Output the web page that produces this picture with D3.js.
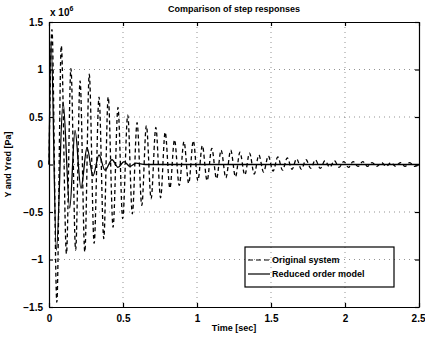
<!DOCTYPE html>
<html>
<head>
<meta charset="utf-8">
<script src="https://cdn.jsdelivr.net/npm/d3@7"></script>
<style>
  body { margin: 0; background: #fff; }
  svg { font-family: "Liberation Sans", Arial, sans-serif; }
</style>
</head>
<body>
<svg id="chart" width="425" height="337"></svg>
<script>
// values in units of 10^6 Pa
const xTicks = [0, 0.5, 1, 1.5, 2, 2.5];
const yTicks = [-1.5, -1, -0.5, 0, 0.5, 1, 1.5];

// original system: peaks and troughs of the oscillation
const peakT = [0.020, 0.083, 0.148, 0.210, 0.272, 0.338, 0.400, 0.466, 0.532, 0.595, 0.658, 0.722, 0.785, 0.848, 0.912, 0.975, 1.036, 1.100, 1.163, 1.228, 1.290, 1.355, 1.418, 1.482, 1.546, 1.610, 1.673, 1.737, 1.800, 1.865, 1.928, 1.992, 2.055, 2.120, 2.183, 2.247, 2.310, 2.374, 2.437];
const peakY = [1.42, 1.25, 1.01, 0.88, 0.95, 0.71, 0.71, 0.60, 0.52, 0.44, 0.41, 0.39, 0.34, 0.26, 0.24, 0.25, 0.20, 0.17, 0.15, 0.15, 0.13, 0.12, 0.10, 0.09, 0.08, 0.07, 0.06, 0.05, 0.05, 0.04, 0.04, 0.03, 0.03, 0.03, 0.02, 0.02, 0.02, 0.02, 0.02];
const troughT = [0.053, 0.118, 0.180, 0.242, 0.305, 0.370, 0.433, 0.498, 0.563, 0.627, 0.690, 0.754, 0.817, 0.880, 0.944, 1.006, 1.068, 1.132, 1.195, 1.260, 1.323, 1.387, 1.450, 1.514, 1.578, 1.642, 1.705, 1.769, 1.833, 1.897, 1.960, 2.024, 2.088, 2.152, 2.215, 2.279, 2.342, 2.406, 2.470];
const troughY = [-1.45, -0.94, -0.90, -0.92, -0.83, -0.78, -0.66, -0.57, -0.52, -0.43, -0.36, -0.35, -0.25, -0.22, -0.20, -0.17, -0.17, -0.15, -0.14, -0.13, -0.11, -0.10, -0.08, -0.07, -0.06, -0.05, -0.05, -0.04, -0.04, -0.03, -0.03, -0.03, -0.02, -0.02, -0.02, -0.02, -0.02, -0.02, -0.02];

// reduced order model
const redT = [0, 0.014, 0.050, 0.095, 0.140, 0.176, 0.216, 0.257, 0.297, 0.338, 0.378, 0.426, 0.466, 0.507, 0.547, 0.588, 0.650, 2.5];
const redY = [0, 1.30, -0.90, 0.66, -0.46, 0.36, -0.25, 0.18, -0.12, 0.10, -0.06, 0.05, -0.03, 0.03, -0.02, 0.015, 0, 0];

const svg = d3.select('#chart');
const plotLeft = 49, plotRight = 419, plotTop = 22, plotBottom = 307;

const x = d3.scaleLinear().domain([0, 2.5]).range([plotLeft, plotRight]);
const y = d3.scaleLinear().domain([-1.5, 1.5]).range([plotBottom, plotTop]);

// build the original series from peaks and troughs
let orig = [{ t: 0, v: 0 }];
peakT.forEach((t, i) => orig.push({ t: t, v: peakY[i] }));
troughT.forEach((t, i) => orig.push({ t: t, v: troughY[i] }));
orig.push({ t: 2.5, v: 0 });
orig.sort((a, b) => a.t - b.t);

const red = redT.map((t, i) => ({ t: t, v: redY[i] }));

// grid (dotted)
const grid = svg.append('g')
  .attr('stroke', '#000')
  .attr('stroke-width', 0.7)
  .attr('stroke-dasharray', '1,4')
  .attr('opacity', 0.6);
grid.selectAll('line.gx')
  .data(xTicks.slice(1, -1))
  .join('line')
  .attr('class', 'gx')
  .attr('x1', d => x(d)).attr('x2', d => x(d))
  .attr('y1', plotTop).attr('y2', plotBottom);
grid.selectAll('line.gy')
  .data(yTicks.slice(1, -1))
  .join('line')
  .attr('class', 'gy')
  .attr('y1', d => y(d)).attr('y2', d => y(d))
  .attr('x1', plotLeft).attr('x2', plotRight);

const line = d3.line()
  .x(d => x(d.t))
  .y(d => y(d.v))
  .curve(d3.curveMonotoneX);

// original system (dashed)
svg.append('path')
  .datum(orig)
  .attr('d', line)
  .attr('fill', 'none')
  .attr('stroke', '#000')
  .attr('stroke-width', 1.3)
  .attr('stroke-dasharray', '4,3');

// reduced order model (solid)
svg.append('path')
  .datum(red)
  .attr('d', line)
  .attr('fill', 'none')
  .attr('stroke', '#000')
  .attr('stroke-width', 1.3);

// axes box with inward ticks on all sides
const tickLen = 4;
const axB = svg.append('g').attr('transform', `translate(0,${plotBottom})`)
  .call(d3.axisBottom(x).tickValues(xTicks).tickSizeInner(-tickLen).tickSizeOuter(0).tickPadding(8)
    .tickFormat(d => d));
const axT = svg.append('g').attr('transform', `translate(0,${plotTop})`)
  .call(d3.axisTop(x).tickValues(xTicks).tickSizeInner(-tickLen).tickSizeOuter(0).tickFormat(''));
const axL = svg.append('g').attr('transform', `translate(${plotLeft},0)`)
  .call(d3.axisLeft(y).tickValues(yTicks).tickSizeInner(-tickLen).tickSizeOuter(0).tickPadding(6)
    .tickFormat(d => d < 0 ? '\u2212' + Math.abs(d) : d));
const axR = svg.append('g').attr('transform', `translate(${plotRight},0)`)
  .call(d3.axisRight(y).tickValues(yTicks).tickSizeInner(-tickLen).tickSizeOuter(0).tickFormat(''));

[axB, axT, axL, axR].forEach(a => {
  a.select('.domain').attr('stroke', '#000').attr('stroke-width', 1.2);
  a.selectAll('.tick line').attr('stroke', '#000').attr('stroke-width', 1.2);
  a.selectAll('text')
    .attr('font-family', '"Liberation Sans", Arial, sans-serif')
    .attr('font-size', 10)
    .attr('font-weight', 'bold')
    .attr('fill', '#000');
});
// keep the last x label inside the window
axB.selectAll('.tick text').filter(d => d === 2.5).attr('text-anchor', 'end').attr('dx', 6);

// exponent label
const ex = svg.append('text')
  .attr('x', 50).attr('y', 16)
  .attr('font-size', 10)
  .attr('font-weight', 'bold');
ex.append('tspan').text('x 10');
ex.append('tspan').attr('dy', -5).attr('font-size', 7).text('6');

// title
svg.append('text')
  .attr('x', (plotLeft + plotRight) / 2).attr('y', 12)
  .attr('text-anchor', 'middle')
  .attr('font-size', 9)
  .attr('font-weight', 'bold')
  .text('Comparison of step responses');

// axis labels
svg.append('text')
  .attr('x', (plotLeft + plotRight) / 2).attr('y', 331)
  .attr('text-anchor', 'middle')
  .attr('font-size', 9)
  .attr('font-weight', 'bold')
  .text('Time [sec]');

svg.append('text')
  .attr('transform', `translate(11,${(plotTop + plotBottom) / 2}) rotate(-90)`)
  .attr('text-anchor', 'middle')
  .attr('font-size', 9)
  .attr('font-weight', 'bold')
  .text('Y and Yred [Pa]');

// legend
const legend = svg.append('g').attr('transform', 'translate(245,247)');
legend.append('rect')
  .attr('width', 149).attr('height', 40)
  .attr('fill', 'none')
  .attr('stroke', '#000')
  .attr('stroke-width', 1.2);
const entries = [
  { label: 'Original system', dash: '5,3' },
  { label: 'Reduced order model', dash: null }
];
entries.forEach((e, i) => {
  const yy = 13 + i * 14;
  legend.append('line')
    .attr('x1', 3).attr('x2', 25)
    .attr('y1', yy).attr('y2', yy)
    .attr('stroke', '#000')
    .attr('stroke-width', 1.2)
    .attr('stroke-dasharray', e.dash);
  legend.append('text')
    .attr('x', 27).attr('y', yy + 3)
    .attr('font-size', 9)
    .attr('font-weight', 'bold')
    .text(e.label);
});
</script>
</body>
</html>
